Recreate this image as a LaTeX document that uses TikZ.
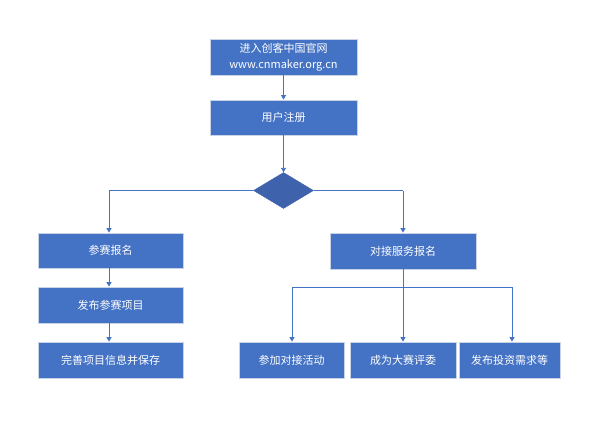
\documentclass[tikz,border=0pt]{standalone}
\usepackage{fontspec}
\setmainfont{Noto Sans CJK SC}
\usetikzlibrary{arrows.meta,shapes.geometric}
\definecolor{boxblue}{HTML}{4472C4}
\definecolor{boxedge}{HTML}{C9D3E6}
\definecolor{diablue}{HTML}{3F62AD}
\begin{document}
\begin{tikzpicture}[x=1pt,y=-1pt,
  stepbox/.style={draw=boxedge,line width=0.8pt,fill=boxblue,text=white,font=\fontsize{11}{15.5}\selectfont,inner sep=0pt,align=center},
  conn/.style={draw=boxblue,line width=0.9pt,-{Triangle[width=5pt,length=4.5pt]}},
  link/.style={draw=boxblue,line width=0.9pt}]
\useasboundingbox (0,0) rectangle (599,429);
\node[stepbox,minimum width=147pt,minimum height=36pt] (a) at (283.5,57) {进入创客中国官网\\www.cnmaker.org.cn};
\node[stepbox,minimum width=147pt,minimum height=35pt] (b) at (283.5,117.5) {用户注册};
\node[diamond,draw=diablue,fill=diablue,minimum width=60pt,minimum height=36pt,inner sep=0pt,aspect=1.67] (d) at (283.5,190.5) {};
\node[stepbox,minimum width=145pt,minimum height=35pt] (l1) at (110.5,250.5) {参赛报名};
\node[stepbox,minimum width=145pt,minimum height=36pt] (l2) at (110.5,305) {发布参赛项目};
\node[stepbox,minimum width=145pt,minimum height=36pt] (l3) at (110.5,360) {完善项目信息并保存};
\node[stepbox,minimum width=146pt,minimum height=36pt] (r) at (403,251) {对接服务报名};
\node[stepbox,minimum width=105pt,minimum height=36pt] (s1) at (291.5,360) {参加对接活动};
\node[stepbox,minimum width=106pt,minimum height=36pt] (s2) at (403,360) {成为大赛评委};
\node[stepbox,minimum width=101pt,minimum height=36pt] (s3) at (509.5,360) {发布投资需求等};
\coordinate (dl) at (109,190.5);
\coordinate (dr) at (403,190.5);
\coordinate (br) at (403,287);
\coordinate (bl) at (292,287);
\coordinate (bx) at (512,287);
\draw[conn] (a.south) -- (b.north);
\draw[conn] (b.south) -- (d.north);
\draw[link] (d.west) -- (dl);
\draw[conn] (dl) -- (dl |- l1.north);
\draw[link] (d.east) -- (dr);
\draw[conn] (dr) -- (r.north);
\draw[conn] (l1.south -| dl) -- (l2.north -| dl);
\draw[conn] (l2.south -| dl) -- (l3.north -| dl);
\draw[link] (r.south) -- (br);
\draw[link] (bl) -- (bx);
\draw[conn] (bl) -- (bl |- s1.north);
\draw[conn] (br) -- (s2.north);
\draw[conn] (bx) -- (bx |- s3.north);
\end{tikzpicture}
\end{document}
